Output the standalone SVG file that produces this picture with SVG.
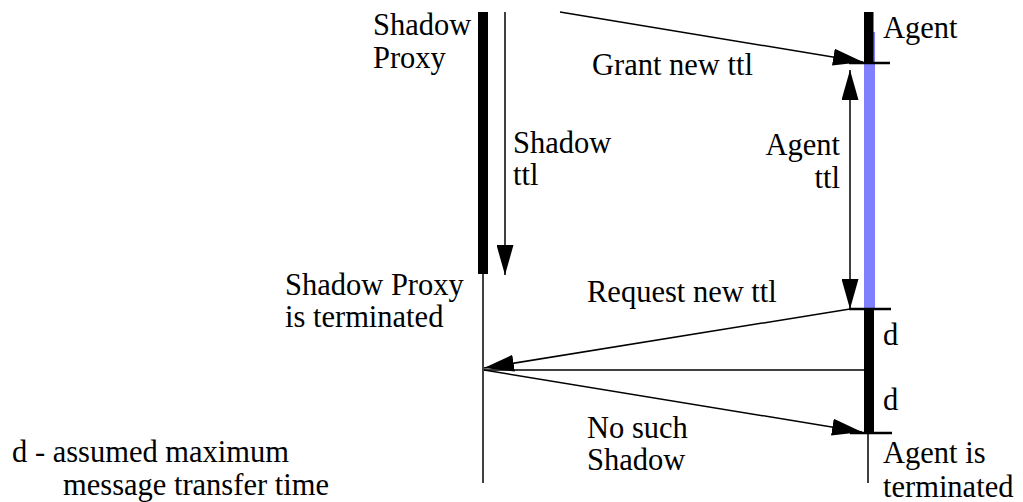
<svg xmlns="http://www.w3.org/2000/svg" width="1023" height="502" viewBox="0 0 1023 502">
<defs>
<marker id="ah" viewBox="0 0 30 17" refX="30" refY="8.5" markerWidth="30" markerHeight="17" markerUnits="userSpaceOnUse" orient="auto-start-reverse">
<path d="M0,0 L30,8.5 L0,17 Z" fill="#000"/>
</marker>
</defs>
<rect width="1023" height="502" fill="#fff"/>
<g id="shadow-proxy">
<rect x="478" y="12" width="10" height="262" fill="#000"/>
<line x1="483" y1="274" x2="483" y2="483" stroke="#000" stroke-width="1.5"/>
<text x="373" y="35" style="font-family:'Liberation Serif',serif;font-size:30.5px">Shadow</text>
<text x="373" y="68" style="font-family:'Liberation Serif',serif;font-size:30.5px">Proxy</text>
<text x="285" y="295" style="font-family:'Liberation Serif',serif;font-size:30.5px">Shadow Proxy</text>
<text x="285" y="327" style="font-family:'Liberation Serif',serif;font-size:30.5px">is terminated</text>
</g>
<g id="agent">
<rect x="864" y="32" width="11" height="277" fill="#8080ff"/>
<rect x="864" y="12" width="9.5" height="51" fill="#000"/>
<rect x="864" y="309" width="10" height="125" fill="#000"/>
<line x1="868" y1="434" x2="868" y2="483" stroke="#000" stroke-width="1.5"/>
<line x1="849" y1="63" x2="890" y2="63" stroke="#000" stroke-width="2.5"/>
<line x1="849" y1="309" x2="891" y2="309" stroke="#000" stroke-width="2.5"/>
<line x1="850" y1="433" x2="892" y2="433" stroke="#000" stroke-width="2.5"/>
<text x="883" y="38" style="font-family:'Liberation Serif',serif;font-size:30.5px">Agent</text>
<text x="883" y="345" style="font-family:'Liberation Serif',serif;font-size:30.5px">d</text>
<text x="883" y="410" style="font-family:'Liberation Serif',serif;font-size:30.5px">d</text>
<text x="883" y="463" style="font-family:'Liberation Serif',serif;font-size:30.5px">Agent is</text>
<text x="883" y="497" style="font-family:'Liberation Serif',serif;font-size:30.5px">terminated</text>
</g>
<g id="connectors" stroke="#000" stroke-width="1.5" fill="none">
<line x1="560" y1="12" x2="863" y2="62" marker-end="url(#ah)"/>
<line x1="505" y1="12" x2="505" y2="275" marker-end="url(#ah)"/>
<line x1="850" y1="70" x2="850" y2="309" marker-start="url(#ah)" marker-end="url(#ah)"/>
<line x1="850" y1="309" x2="484" y2="368" marker-end="url(#ah)"/>
<line x1="484" y1="370" x2="864" y2="370"/>
<line x1="484" y1="370" x2="862" y2="432" marker-end="url(#ah)"/>
</g>
<g id="labels">
<text x="592" y="75" style="font-family:'Liberation Serif',serif;font-size:30.5px">Grant new ttl</text>
<text x="513" y="153" style="font-family:'Liberation Serif',serif;font-size:30.5px">Shadow</text>
<text x="513" y="185" style="font-family:'Liberation Serif',serif;font-size:30.5px">ttl</text>
<text x="840" y="155" text-anchor="end" style="font-family:'Liberation Serif',serif;font-size:30.5px">Agent</text>
<text x="840" y="188" text-anchor="end" style="font-family:'Liberation Serif',serif;font-size:30.5px">ttl</text>
<text x="587" y="302" style="font-family:'Liberation Serif',serif;font-size:30.5px">Request new ttl</text>
<text x="587" y="438" style="font-family:'Liberation Serif',serif;font-size:30.5px">No such</text>
<text x="587" y="470" style="font-family:'Liberation Serif',serif;font-size:30.5px">Shadow</text>
<text x="12" y="462" style="font-family:'Liberation Serif',serif;font-size:30.5px">d - assumed maximum</text>
<text x="63" y="495" style="font-family:'Liberation Serif',serif;font-size:30.5px">message transfer time</text>
</g>
</svg>
